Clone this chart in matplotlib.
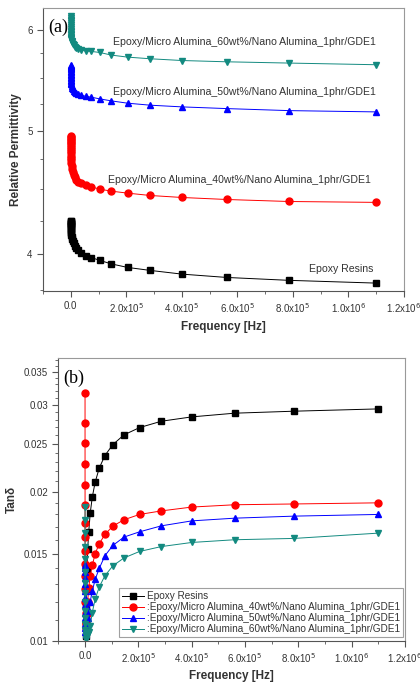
import matplotlib
matplotlib.use('Agg')
import matplotlib.pyplot as plt
from matplotlib.ticker import FixedLocator, NullFormatter, FuncFormatter

# frequency sweep [Hz], shared by all samples
freq = [23, 32, 45, 64, 89, 125, 175, 244, 342, 479, 671, 939, 1315, 1841, 2577,
        3608, 5051, 7071, 9900, 13860, 19410, 27170, 38040, 53250, 74550,
        104400, 146100, 204500, 286300, 400900, 561200, 785700, 1100000]

labels = ['Epoxy Resins',
          'Epoxy/Micro Alumina_40wt%/Nano Alumina_1phr/GDE1',
          'Epoxy/Micro Alumina_50wt%/Nano Alumina_1phr/GDE1',
          'Epoxy/Micro Alumina_60wt%/Nano Alumina_1phr/GDE1']

# relative permittivity
eps_epoxy = [4.25, 4.245, 4.24, 4.235, 4.23, 4.225, 4.22, 4.21, 4.205, 4.195, 4.185,
             4.175, 4.165, 4.155, 4.14, 4.125, 4.11, 4.095, 4.08, 4.06, 4.045, 4.03,
             4.01, 3.99, 3.975, 3.955, 3.93, 3.905, 3.884, 3.858, 3.835, 3.815, 3.796]
eps_40 = [4.95, 4.94, 4.925, 4.915, 4.90, 4.885, 4.87, 4.855, 4.84, 4.82, 4.80,
          4.78, 4.76, 4.74, 4.715, 4.69, 4.665, 4.64, 4.615, 4.595, 4.575, 4.56,
          4.545, 4.53, 4.517, 4.498, 4.482, 4.466, 4.447, 4.431, 4.415, 4.399, 4.392]
eps_50 = [5.63, 5.62, 5.61, 5.60, 5.585, 5.57, 5.555, 5.54, 5.525, 5.51, 5.495,
          5.48, 5.465, 5.45, 5.435, 5.42, 5.405, 5.39, 5.375, 5.36, 5.35, 5.34,
          5.33, 5.32, 5.311, 5.295, 5.276, 5.254, 5.235, 5.219, 5.203, 5.184, 5.172]
eps_60 = [6.15, 6.13, 6.11, 6.09, 6.07, 6.05, 6.03, 6.01, 5.99, 5.97, 5.955,
          5.94, 5.925, 5.91, 5.895, 5.88, 5.865, 5.85, 5.835, 5.82, 5.805, 5.795,
          5.785, 5.775, 5.769, 5.758, 5.731, 5.710, 5.693, 5.675, 5.662, 5.649, 5.632]

# tan delta
tan_epoxy = [0.0070, 0.0072, 0.0074, 0.0076, 0.0078, 0.0080, 0.0082, 0.0084, 0.0086,
             0.0088, 0.0090, 0.0093, 0.0097, 0.0102, 0.0109, 0.0117, 0.0127, 0.0139,
             0.0153, 0.0166, 0.0181, 0.01951, 0.02092, 0.02233, 0.02368, 0.02492,
             0.02607, 0.02697, 0.02778, 0.02835, 0.02884, 0.02911, 0.02942]
tan_40 = [0.0317, 0.0276, 0.0251, 0.0228, 0.0206, 0.0188, 0.0173, 0.0162, 0.0152,
          0.0143, 0.0135, 0.0127, 0.0120, 0.0114, 0.0109, 0.0106, 0.0108, 0.0113,
          0.0120, 0.0128, 0.0135, 0.0142, 0.0150, 0.0157, 0.0164, 0.01705, 0.01756,
          0.0180, 0.0183, 0.01863, 0.01883, 0.0189, 0.0190]
tan_50 = [0.0142, 0.0140, 0.0138, 0.0134, 0.0130, 0.0126, 0.0122, 0.0118, 0.0114,
          0.0111, 0.0108, 0.0106, 0.0104, 0.0103, 0.0103, 0.0104, 0.0106, 0.0108,
          0.0111, 0.0115, 0.0120, 0.0126, 0.0133, 0.0140, 0.01485, 0.01558, 0.0162,
          0.0166, 0.01707, 0.01747, 0.01769, 0.01786, 0.0180]
tan_60 = [0.0186, 0.0175, 0.0165, 0.0155, 0.0146, 0.0138, 0.0131, 0.0125, 0.0120,
          0.0115, 0.0111, 0.0108, 0.0105, 0.0103, 0.0102, 0.0101, 0.0101, 0.0102,
          0.0103, 0.0104, 0.0107, 0.0114, 0.01214, 0.01284, 0.01353, 0.01417,
          0.0147, 0.01515, 0.0155, 0.0158, 0.0160, 0.0161, 0.0165]

colors = ['black', '#ff0000', '#0000ff', '#138a80']
markers = ['s', 'o', '^', 'v']

plt.rcParams['font.family'] = ['Liberation Sans', 'DejaVu Sans']


def xfmt(v, pos):
    if abs(v) < 1:
        return '0.0'
    exp = 5 if v < 1e6 else 6
    return '%.1fx10$^{%d}$' % (v / 10 ** exp, exp)


def style_axes(ax):
    ax.set_xlim(-1.0e5, 1.2e6)
    ax.set_yscale('log')
    ax.xaxis.set_major_locator(FixedLocator([0, 2e5, 4e5, 6e5, 8e5, 1e6, 1.2e6]))
    ax.xaxis.set_minor_locator(FixedLocator([-1e5, 1e5, 3e5, 5e5, 7e5, 9e5, 1.1e6]))
    ax.xaxis.set_major_formatter(FuncFormatter(xfmt))
    ax.tick_params(which='both', direction='out', top=False, right=False,
                   colors='#555555', labelcolor='#333333', labelsize=7)
    ax.tick_params(which='major', length=4)
    ax.tick_params(which='minor', length=2)
    for s in ['top', 'right']:
        ax.spines[s].set_color('#999999')
    for s in ['left', 'bottom']:
        ax.spines[s].set_color('#555555')
    ax.set_xlabel('Frequency [Hz]', fontsize=8.5, fontweight='bold', color='#333333')


fig = plt.figure(figsize=(4.2, 6.89), dpi=100)

# (a) relative permittivity
ax1 = fig.add_axes([0.1024, 0.5776, 0.8596, 0.4108])
for y, c, m, lab in zip([eps_epoxy, eps_40, eps_50, eps_60], colors, markers, labels):
    ax1.plot(freq, y, color=c, marker=m, markersize=5, linewidth=0.7, label=lab)
style_axes(ax1)
ax1.set_ylim(3.742, 6.24)
ax1.yaxis.set_major_locator(FixedLocator([4, 5, 6]))
ax1.yaxis.set_major_formatter(FuncFormatter(lambda v, p: '%d' % round(v)))
ax1.yaxis.set_minor_locator(FixedLocator([3.75, 4.25, 4.5, 4.75, 5.25, 5.5, 5.75]))
ax1.yaxis.set_minor_formatter(NullFormatter())
ax1.set_ylabel('Relative Permittivity', fontsize=8.5, fontweight='bold', color='#333333')
ax1.text(1.1e6, 5.87, labels[3], ha='right', va='center', fontsize=7.6, color='#333333')
ax1.text(1.1e6, 5.365, labels[2], ha='right', va='center', fontsize=7.6, color='#333333')
ax1.text(1.08e6, 4.572, labels[1], ha='right', va='center', fontsize=7.6, color='#333333')
ax1.text(1.09e6, 3.891, labels[0], ha='right', va='center', fontsize=7.6, color='#333333')
ax1.text(0.015, 0.93, '(a)', transform=ax1.transAxes, ha='left', va='center',
         fontsize=13, family='Liberation Serif')

# (b) tan delta
ax2 = fig.add_axes([0.139, 0.0701, 0.825, 0.4099])
legend_labels = [labels[0]] + [':' + l for l in labels[1:]]
for y, c, m, lab in zip([tan_epoxy, tan_40, tan_50, tan_60], colors, markers, legend_labels):
    ax2.plot(freq, y, color=c, marker=m, markersize=5, linewidth=0.7, label=lab)
style_axes(ax2)
ax2.set_ylim(0.01, 0.03724)
ax2.yaxis.set_major_locator(FixedLocator([0.01, 0.015, 0.02, 0.025, 0.03, 0.035]))
ax2.yaxis.set_major_formatter(FuncFormatter(lambda v, p: ('%.3f' % v).rstrip('0')))
ax2.yaxis.set_minor_locator(FixedLocator([0.011, 0.012, 0.013, 0.014, 0.016, 0.017,
                                          0.018, 0.019, 0.021, 0.022, 0.023, 0.024,
                                          0.026, 0.027, 0.028, 0.029, 0.031, 0.032,
                                          0.033, 0.034, 0.036, 0.037]))
ax2.yaxis.set_minor_formatter(NullFormatter())
ax2.set_ylabel('Tanδ', fontsize=8.5, fontweight='bold', color='#333333')
ax2.text(0.015, 0.93, '(b)', transform=ax2.transAxes, ha='left', va='center',
         fontsize=13, family='Liberation Serif')
leg = ax2.legend(loc='lower right', bbox_to_anchor=(0.995, 0.013), borderaxespad=0,
                 fontsize=7.2, frameon=True, fancybox=False, edgecolor='#888888',
                 handlelength=2.2, labelspacing=0.1, borderpad=0.3, handletextpad=0.3)
leg.get_frame().set_linewidth(0.8)
for t in leg.get_texts():
    t.set_color('#333333')

fig.savefig('out.png', dpi=100)
